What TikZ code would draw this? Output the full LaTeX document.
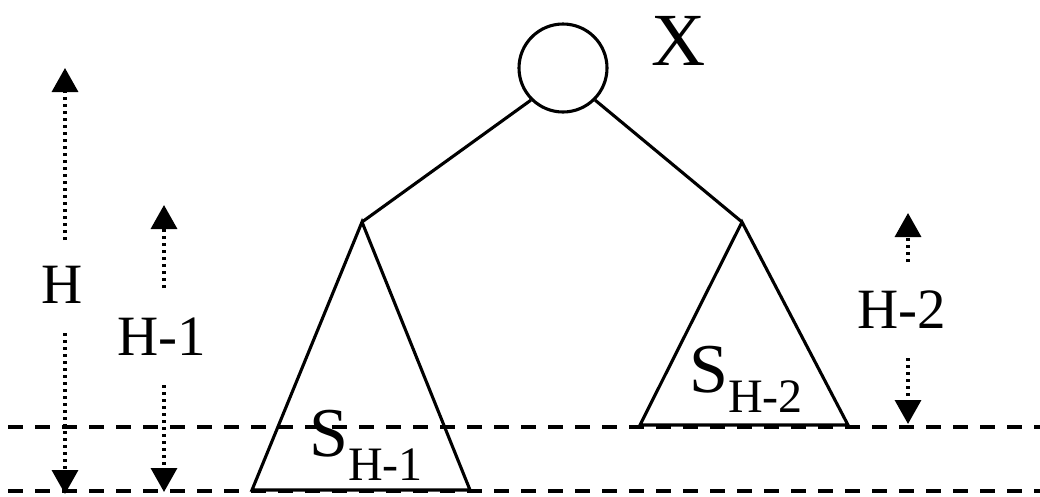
\documentclass[tikz,border=0pt]{standalone}
\usepackage{fontspec}
\setmainfont{Liberation Serif}
\usetikzlibrary{arrows.meta}
\begin{document}
\begin{tikzpicture}[x=1pt,y=-1pt,
  solidline/.style={line width=3.1pt,line join=miter},
  levelline/.style={line width=3.3pt,dash pattern=on 15pt off 12pt},
  dotline/.style={line width=3.4pt,dash pattern=on 3pt off 4pt},
  tipline/.style={dotline,-{Triangle[width=26pt,length=24pt]}},
  lbl/.style={inner sep=0pt,font=\fontsize{57}{57}\selectfont},
  sublbl/.style={inner sep=0pt,anchor=base west,font=\fontsize{70}{70}\selectfont}]
\useasboundingbox (0,0) rectangle (1040,496);
% level lines
\coordinate (U1) at (8,427); \coordinate (U2) at (1040,427);
\coordinate (L1) at (8,491); \coordinate (L2) at (1040,491);
\draw[levelline] (U1) -- (U2);
\draw[levelline] (L1) -- (L2);
% root
\node[circle,draw,line width=3.1pt,minimum size=88pt,inner sep=0pt] (root) at (563,68) {};
\node[inner sep=0pt,anchor=base,font=\fontsize{75}{75}\selectfont] (xl) at (679,65) {X};
% subtrees
\coordinate (la) at (362,222);
\coordinate (lb1) at (252,490); \coordinate (lb2) at (470,490);
\coordinate (ra) at (742,222);
\coordinate (rb1) at (640,425); \coordinate (rb2) at (848,425);
\draw[solidline] (root.225) -- (la);
\draw[solidline] (root.-45) -- (ra);
\draw[solidline] (lb1) -- (la) -- (lb2) -- cycle;
\draw[solidline] (rb1) -- (ra) -- (rb2) -- cycle;
\node[sublbl] (sl) at (309,456)
  {S\raisebox{-24pt}{\fontsize{48}{48}\selectfont H-1}};
\node[sublbl] (sr) at (689,392)
  {S\raisebox{-20pt}{\fontsize{48}{48}\selectfont H-2}};
% height H
\node[lbl,anchor=base] (hl) at (62,303) {H};
\coordinate (h1) at (65,240); \coordinate (h1t) at (65,68);
\coordinate (h2) at (65,333); \coordinate (h2t) at (65,494);
\draw[tipline] (h1) -- (h1t);
\draw[tipline] (h2) -- (h2t);
% height H-1
\node[lbl,anchor=base] (h1l) at (162,355) {H-1};
\coordinate (g1) at (164,288); \coordinate (g1t) at (164,205);
\coordinate (g2) at (164,385); \coordinate (g2t) at (164,492);
\draw[tipline] (g1) -- (g1t);
\draw[tipline] (g2) -- (g2t);
% height H-2
\node[lbl,anchor=base] (h2l) at (902,328) {H-2};
\coordinate (k1) at (908,262); \coordinate (k1t) at (908,213);
\coordinate (k2) at (908,358); \coordinate (k2t) at (908,424);
\draw[tipline] (k1) -- (k1t);
\draw[tipline] (k2) -- (k2t);
\end{tikzpicture}
\end{document}
